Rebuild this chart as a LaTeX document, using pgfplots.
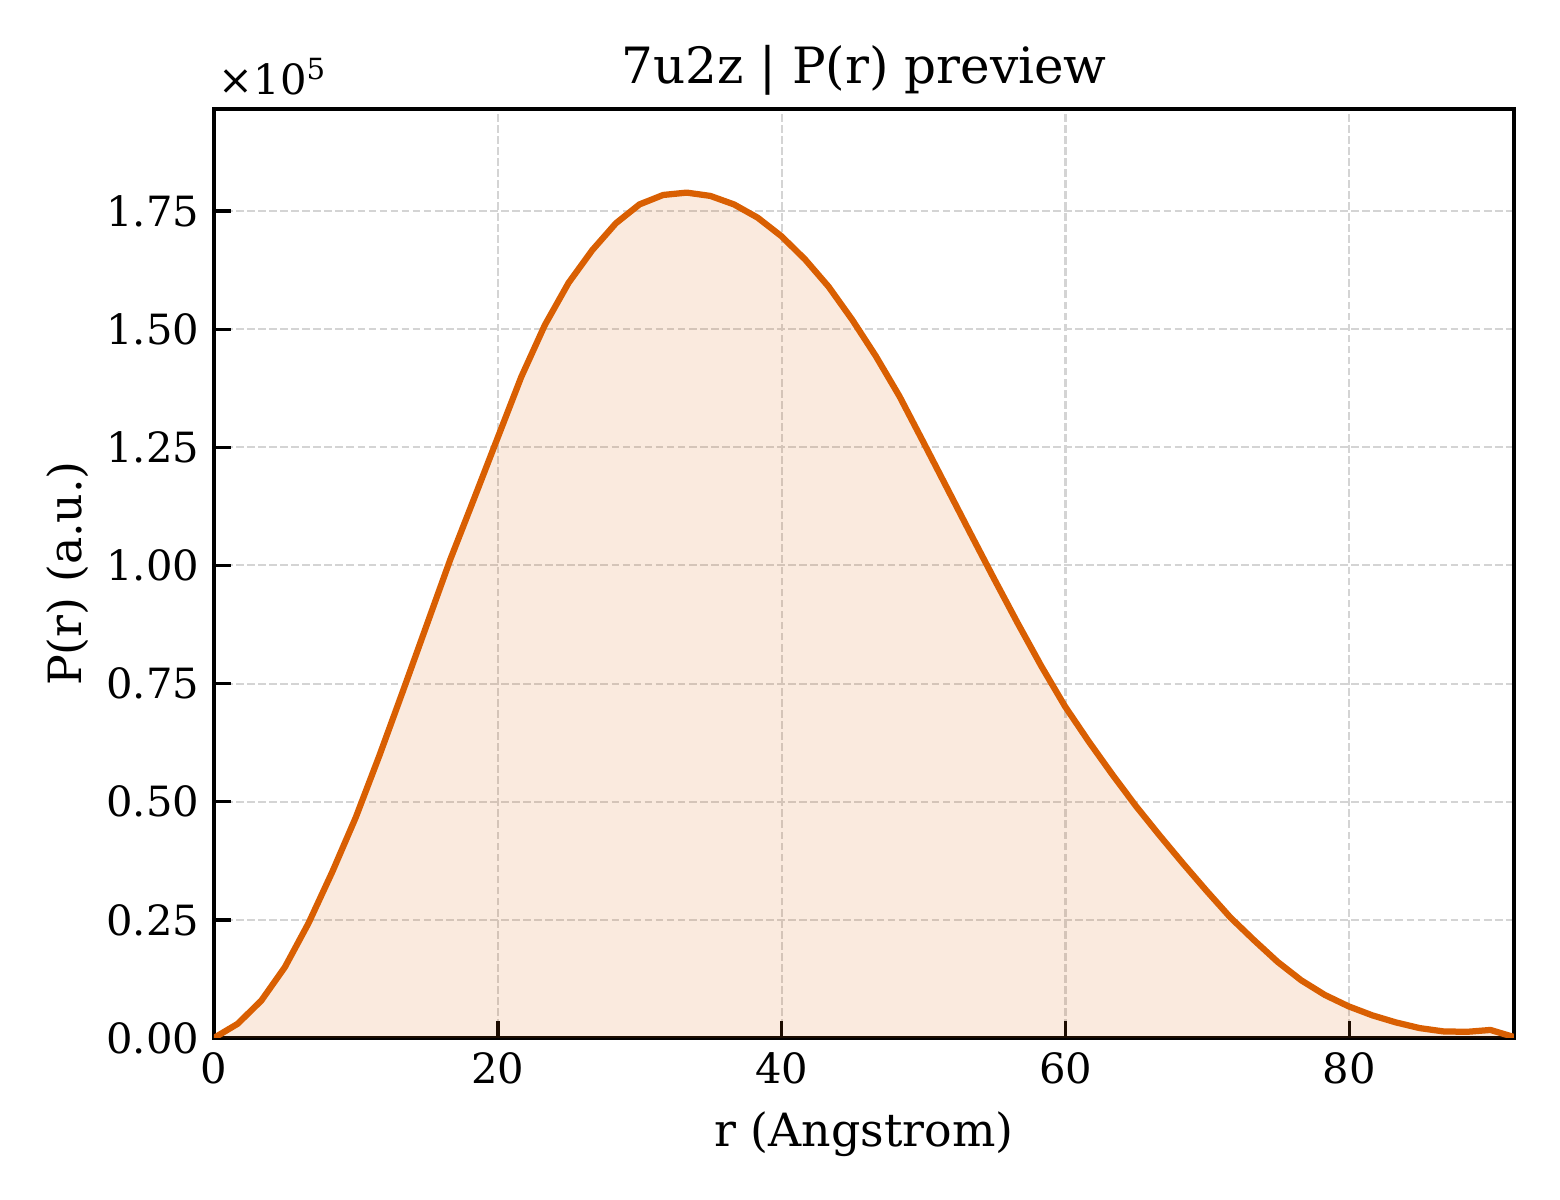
\documentclass[border=0pt]{standalone}
\usepackage{fontspec}
\setmainfont{DejaVu Serif}
\usepackage{pgfplots}
\usepackage{pgfplotstable}
\pgfplotsset{compat=1.18}
\definecolor{prc}{HTML}{D95F02}
\definecolor{gridc}{HTML}{D4D4D4}
\pgfplotstableread{
r P
0.000 0
1.666 3000
3.331 7900
4.997 15000
6.662 24300
8.328 35100
9.993 46700
11.659 59800
13.324 73500
14.990 87400
16.655 101300
18.321 114100
19.986 127000
21.652 139900
23.317 150900
24.983 159800
26.648 166700
28.314 172400
29.979 176400
31.645 178400
33.310 178900
34.976 178200
36.641 176400
38.307 173600
39.972 169700
41.638 164800
43.303 159000
44.969 152000
46.634 144300
48.300 135800
49.965 126200
51.631 116500
53.296 106800
54.962 97200
56.627 87800
58.293 78700
59.958 70200
61.624 62800
63.289 55800
64.955 49100
66.620 42900
68.286 36900
69.951 31100
71.617 25500
73.282 20700
74.948 16100
76.613 12200
78.279 9100
79.944 6700
81.610 4800
83.275 3300
84.941 2100
86.606 1400
88.272 1300
89.937 1700
91.603 200
}\prdata
\begin{document}
\begin{tikzpicture}
\useasboundingbox (-51.36pt,-38.88pt) rectangle (323.04pt,249.12pt);
\begin{axis}[
  at={(0,0)}, anchor=south west,
  width=312pt, height=222.96pt, scale only axis,
  xmin=0, xmax=91.6, ymin=0, ymax=196600,
  xtick={0,20,40,60,80},
  ytick={0,25000,50000,75000,100000,125000,150000,175000},
  scaled y ticks=base 10:-5,
  ytick scale label code/.code={},
  tick align=inside,
  xtick pos=bottom, ytick pos=left,
  major tick length=4pt,
  tick style={black, line width=0.8pt},
  axis line style={black, line width=1pt},
  grid=major,
  major grid style={gridc, line width=0.5pt, dash pattern=on 1.85pt off 0.8pt},
  /pgf/number format/assume math mode=true,
  ticklabel style={font=\fontsize{10}{12}\selectfont},
  y tick label style={/pgf/number format/.cd, fixed, fixed zerofill, precision=2, /tikz/.cd},
  clip mode=individual,
]
\addplot[draw=none, fill=prc, fill opacity=0.13] table[x=r, y=P] {\prdata} \closedcycle;
\addplot[prc, line width=1.5pt, line join=round] table[x=r, y=P] {\prdata};
\node[anchor=base west, inner sep=0pt, font=\fontsize{10}{12}\selectfont] at (axis description cs:0.003,1.0151) {×10\textsuperscript{5}};
\node[anchor=base, inner sep=0pt, font=\fontsize{12}{14}\selectfont] at (axis description cs:0.5,1.0275) {7u2z | P(r) preview};
\node[anchor=base, inner sep=0pt, font=\fontsize{11}{13}\selectfont] at (axis description cs:0.5,-0.117) {r (Angstrom)};
\node[anchor=center, inner sep=0pt, rotate=90, font=\fontsize{11}{13}\selectfont] at (axis description cs:-0.1123,0.5) {P(r) (a.u.)};
\end{axis}
\end{tikzpicture}
\end{document}
